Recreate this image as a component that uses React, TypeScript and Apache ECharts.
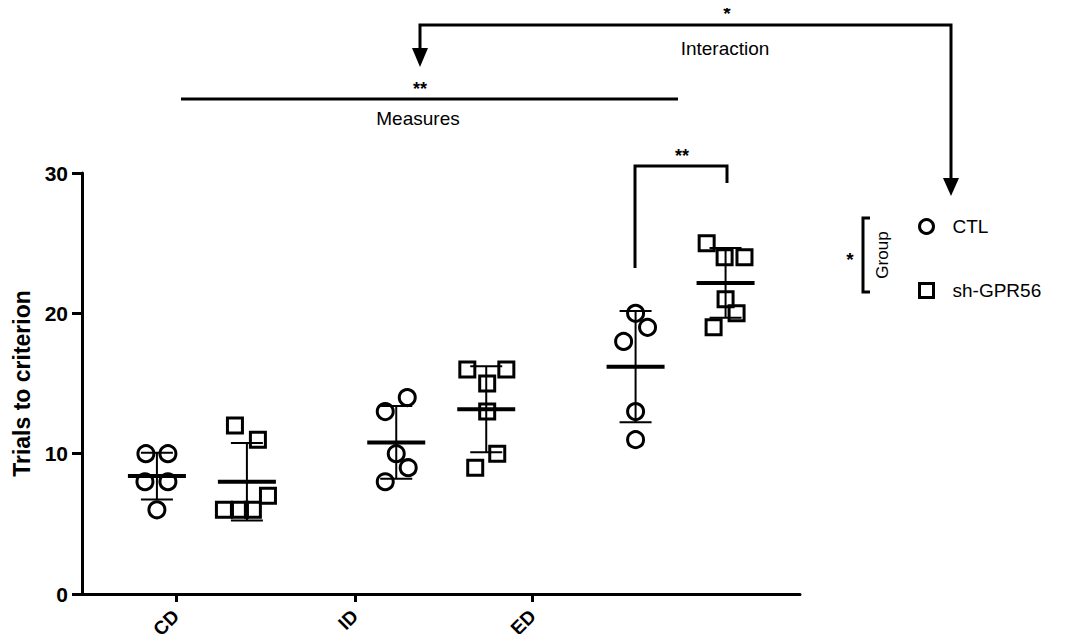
import React, { useEffect, useRef } from "react";
import * as echarts from "echarts";

const categories = ["CD", "ID", "ED"];
const tickPositions = [0.392, 1.14, 1.883];
const groupNames = ["CTL", "sh-GPR56"];
const groupCenters = [0.313, 0.689];

// values per category for each group
const ctlValues = [
  [10, 10, 8, 8, 6],
  [13, 14, 10, 9, 8],
  [20, 19, 18, 13, 11],
];
const gprValues = [
  [12, 11, 6, 6, 6, 7],
  [16, 16, 15, 13, 10, 9],
  [25, 24, 24, 21, 20, 19],
];
// horizontal scatter offsets (in category units) as seen in the picture
const ctlJitter = [
  [-0.046, 0.046, -0.05, 0.046, 0],
  [-0.046, 0.046, 0, 0.05, -0.046],
  [0, 0.05, -0.05, 0, 0],
];
const gprJitter = [
  [-0.05, 0.046, -0.096, -0.029, 0.025, 0.088],
  [-0.079, 0.084, 0.004, 0.004, 0.046, -0.046],
  [-0.079, -0.004, 0.079, 0, 0.046, -0.05],
];

const yTicks = [0, 10, 20, 30];

const FONT = "Liberation Sans";

function mean(a: number[]) {
  return a.reduce((s, v) => s + v, 0) / a.length;
}
function sd(a: number[]) {
  const m = mean(a);
  return Math.sqrt(a.reduce((s, v) => s + (v - m) * (v - m), 0) / (a.length - 1));
}

function points(values: number[][], jitter: number[][], center: number) {
  const out: number[][] = [];
  values.forEach((arr, i) =>
    arr.forEach((v, j) => out.push([i + center + jitter[i][j], v]))
  );
  return out;
}
function stats(values: number[][], center: number) {
  return values.map((arr, i) => [i + center, mean(arr), sd(arr)]);
}

const renderBar = (params: any, api: any) => {
  const x = api.value(0);
  const m = api.value(1);
  const s = api.value(2);
  const c = api.coord([x, m]);
  const t = api.coord([x, m + s]);
  const b = api.coord([x, m - s]);
  const ls = { stroke: "#000", lineWidth: 2 };
  return {
    type: "group",
    children: [
      { type: "line", shape: { x1: c[0], y1: t[1], x2: c[0], y2: b[1] }, style: ls },
      { type: "line", shape: { x1: c[0] - 16, y1: t[1], x2: c[0] + 16, y2: t[1] }, style: ls },
      { type: "line", shape: { x1: c[0] - 16, y1: b[1], x2: c[0] + 16, y2: b[1] }, style: ls },
      {
        type: "line",
        shape: { x1: c[0] - 29, y1: c[1], x2: c[0] + 29, y2: c[1] },
        style: { stroke: "#000", lineWidth: 4 },
      },
    ],
  };
};

export default function App() {
  const ref = useRef<HTMLDivElement>(null);
  useEffect(() => {
    if (!ref.current) return;
    const chart = echarts.init(ref.current, null, { renderer: "svg" });
    const txt = (x: number, y: number, text: string, size: number, weight = "normal", rotation = 0) => ({
      type: "text",
      x,
      y,
      rotation,
      style: {
        text,
        fill: "#000",
        font: `${weight} ${size}px '${FONT}'`,
        align: "center",
        verticalAlign: "middle",
      },
    });
    const lineStyle = { stroke: "#000", lineWidth: 3, fill: null };
    chart.setOption({
      animation: false,
      grid: { left: 82, right: 267, top: 173, bottom: 48, containLabel: false },
      xAxis: {
        type: "value",
        min: 0,
        max: 3,
        splitLine: { show: false },
        axisLine: { show: true, onZero: false, lineStyle: { color: "#000", width: 3 } },
        axisTick: { show: true, customValues: tickPositions, length: 8, lineStyle: { color: "#000", width: 3 } },
        axisLabel: {
          customValues: tickPositions,
          rotate: 45,
          margin: 19,
          color: "#000",
          fontFamily: FONT,
          fontWeight: "bold",
          fontSize: 19,
          formatter: (v: number) => {
            let best = 0;
            tickPositions.forEach((p, i) => {
              if (Math.abs(p - v) < Math.abs(tickPositions[best] - v)) best = i;
            });
            return categories[best];
          },
        },
      },
      yAxis: {
        type: "value",
        min: 0,
        max: 30,
        interval: 10,
        name: "Trials to criterion",
        nameLocation: "middle",
        nameGap: 48,
        nameTextStyle: { color: "#000", fontFamily: FONT, fontWeight: "bold", fontSize: 23 },
        splitLine: { show: false },
        axisLine: { show: true, lineStyle: { color: "#000", width: 3 } },
        axisTick: { show: true, length: 10, lineStyle: { color: "#000", width: 3 } },
        axisLabel: {
          margin: 14,
          color: "#000",
          fontFamily: FONT,
          fontWeight: "bold",
          fontSize: 21,
          customValues: yTicks,
        },
      },
      legend: {
        data: groupNames,
        orient: "vertical",
        left: 913,
        top: 212,
        itemWidth: 14,
        itemHeight: 14,
        itemGap: 45,
        itemStyle: { borderWidth: 3, borderColor: "#000", color: "rgba(255,255,255,0)" },
        textStyle: { color: "#000", fontFamily: FONT, fontSize: 19, padding: [0, 0, 0, 14] },
      },
      series: [
        {
          type: "custom",
          name: "ctl-bars",
          renderItem: renderBar,
          data: stats(ctlValues, groupCenters[0]),
          z: 1,
        },
        {
          type: "custom",
          name: "gpr-bars",
          renderItem: renderBar,
          data: stats(gprValues, groupCenters[1]),
          z: 1,
        },
        {
          type: "scatter",
          name: groupNames[0],
          symbol: "circle",
          symbolSize: 16,
          itemStyle: { color: "rgba(255,255,255,0)", borderColor: "#000", borderWidth: 3, opacity: 1 },
          data: points(ctlValues, ctlJitter, groupCenters[0]),
          z: 2,
        },
        {
          type: "scatter",
          name: groupNames[1],
          symbol: "rect",
          symbolSize: 15,
          itemStyle: { color: "rgba(255,255,255,0)", borderColor: "#000", borderWidth: 3, opacity: 1 },
          data: points(gprValues, gprJitter, groupCenters[1]),
          z: 2,
        },
      ],
      graphic: [
        txt(727, 13, "*", 19, "bold"),
        { type: "polyline", shape: { points: [[420, 52], [420, 25], [951, 25], [951, 182]] }, style: lineStyle },
        { type: "polygon", shape: { points: [[412, 48], [428, 48], [420, 67]] }, style: { fill: "#000" } },
        { type: "polygon", shape: { points: [[943, 178], [959, 178], [951, 196]] }, style: { fill: "#000" } },
        txt(725, 48, "Interaction", 19),
        txt(420, 89, "**", 18, "bold"),
        { type: "line", shape: { x1: 181, y1: 99, x2: 678, y2: 99 }, style: lineStyle },
        txt(418, 118, "Measures", 19),
        { type: "polyline", shape: { points: [[635, 268], [635, 166], [727, 166], [727, 183]] }, style: lineStyle },
        txt(682, 156, "**", 18, "bold"),
        { type: "polyline", shape: { points: [[870, 218], [863, 218], [863, 292], [870, 292]] }, style: lineStyle },
        txt(882, 255, "Group", 17, "normal", Math.PI / 2),
        txt(850, 259, "*", 19, "bold"),
      ],
    });
    return () => chart.dispose();
  }, []);
  return <div ref={ref} style={{ width: 1067, height: 642, margin: -8 }} />;
}
